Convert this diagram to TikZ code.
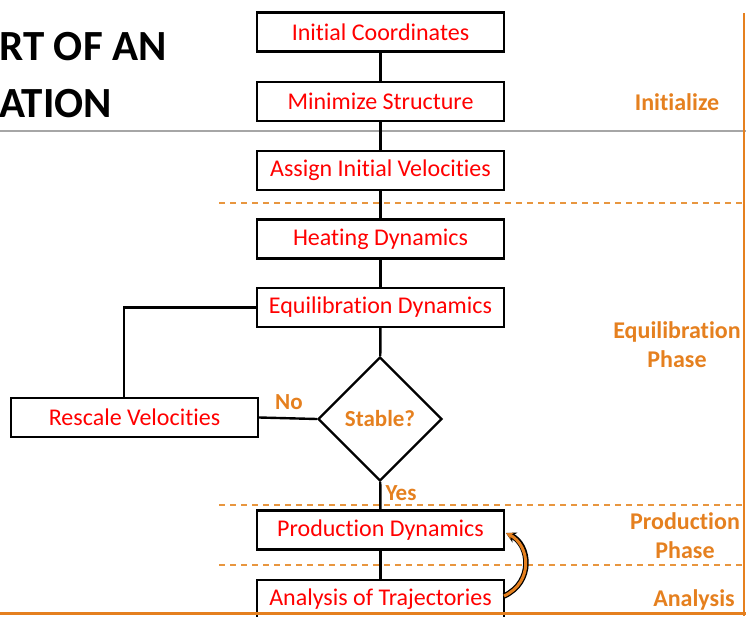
\documentclass[tikz,border=0pt]{standalone}
\usepackage{fontspec}
\setmainfont{Carlito}[Ligatures={NoCommon}]
\usetikzlibrary{shapes.geometric,arrows.meta}
\definecolor{org}{HTML}{E5801F}
\definecolor{dorg}{HTML}{E8963F}
\definecolor{lgray}{HTML}{A6A6A6}
\tikzset{
  stepbox/.style={draw=black, line width=2.4pt, fill=white, minimum width=247pt, minimum height=39pt, inner sep=0pt, text=red, font=\fontsize{24}{26}\selectfont},
  decision/.style={draw=black, line width=2.4pt, diamond, aspect=1, minimum width=124pt, minimum height=124pt, inner sep=0pt, text=org, font=\bfseries\fontsize{23}{25}\selectfont},
  conn/.style={draw=black, line width=2.4pt},
  lbl/.style={text=org, font=\bfseries\fontsize{23}{25}\selectfont, inner sep=0pt},
  phase/.style={text=org, font=\bfseries\fontsize{24}{29}\selectfont, align=center, inner sep=0pt},
  sep/.style={draw=dorg, line width=1.2pt, dash pattern=on 6pt off 5pt},
  titletext/.style={font=\bfseries\fontsize{43}{50}\selectfont, anchor=west, inner sep=0pt}
}
\begin{document}
\begin{tikzpicture}[x=1pt,y=-1pt]
\useasboundingbox (0,0) rectangle (746,616);
\clip (0,0) rectangle (746,616);
% title fragments
\node[titletext] (t1) at (-1,47) {RT OF AN};
\node[titletext] (t2) at (-1,104) {ATION};
% separators
\draw[lgray, line width=1.5pt] (0,131) -- (746,131);
\draw[sep] (219,203) -- (744,203);
\draw[sep] (219,505) -- (744,505);
\draw[sep] (219,565) -- (744,565);
% boxes
\node[stepbox] (ic) at (380.5,32) {Initial Coordinates};
\node[stepbox] (ms) at (380.5,101.5) {Minimize Structure};
\node[stepbox] (av) at (380.5,170.5) {Assign Initial Velocities};
\node[stepbox] (hd) at (380.5,239) {Heating Dynamics};
\node[stepbox] (ed) at (380.5,307.5) {Equilibration Dynamics};
\node[decision] (st) at (380,419) {Stable?};
\node[stepbox] (rv) at (134.5,417.5) {Rescale Velocities};
\node[stepbox] (pd) at (380.5,530) {Production Dynamics};
\node[stepbox] (at) at (380.5,599.5) {Analysis of Trajectories};
% connectors
\draw[conn] (ic) -- (ms);
\draw[conn] (ms) -- (av);
\draw[conn] (av) -- (hd);
\draw[conn] (hd) -- (ed);
\draw[conn] (ed) -- (st);
\draw[conn] (st) -- (pd);
\draw[conn] (pd) -- (at);
\draw[conn] (ed.west) -| ([xshift=-10.5pt]rv.north);
\draw[conn] (rv.east) -- (st.west);
\node[lbl] (no) at (289,402) {No};
\node[lbl] (yes) at (401,493) {Yes};
% loop arrow
\coordinate (a1) at (504,596);
\coordinate (a2) at (506,533);
\draw[black, line width=5.5pt, -{Stealth[length=10pt,width=11pt]}] (a1) .. controls (534,582) and (530,545) .. (a2);
\draw[org, line width=3pt, -{Stealth[length=7pt,width=7pt]}] (a1) .. controls (534,582) and (530,545) .. (a2);
% phase labels
\node[phase] (p1) at (677,102) {Initialize};
\node[phase] (p2) at (677,344.5) {Equilibration\\Phase};
\node[phase] (p3) at (685,536) {Production\\Phase};
\node[phase] (p4) at (694,600) {Analysis};
% frame lines
\draw[org, line width=1.5pt] (744,13) -- (744,616);
\draw[org, line width=2.5pt] (0,613.5) -- (746,613.5);
\end{tikzpicture}
\end{document}
